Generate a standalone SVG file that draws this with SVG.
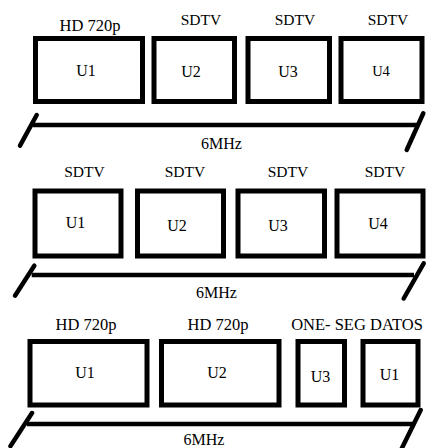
<svg xmlns="http://www.w3.org/2000/svg" width="427" height="448" viewBox="0 0 427 448">
<style>
.box{fill:#fff;stroke:#000;stroke-width:5}
.ln{fill:none;stroke:#000;stroke-width:4.5;stroke-linecap:round}
.hl{fill:none;stroke:#000;stroke-width:4.5}
text{font-family:"Liberation Serif","Times New Roman",serif;fill:#000;text-anchor:middle}
.lab{font-size:16.5px}
.sd{font-size:15.5px}
.u{font-size:16px}
.mhz{font-size:16px}
</style>
<rect width="427" height="448" fill="#fff"/>
<g id="row1">
  <g id="r1-u1"><text class="lab" x="90" y="31">HD 720p</text><rect class="box" x="35.5" y="38.5" width="107" height="63"/><text class="u" x="86" y="76">U1</text></g>
  <g id="r1-u2"><text class="sd" x="201" y="25">SDTV</text><rect class="box" x="154" y="38.5" width="80.5" height="63"/><text class="u" x="191" y="77">U2</text></g>
  <g id="r1-u3"><text class="sd" x="295" y="25">SDTV</text><rect class="box" x="248" y="38.5" width="81.5" height="63"/><text class="u" x="288" y="77">U3</text></g>
  <g id="r1-u4"><text class="sd" x="388" y="25">SDTV</text><rect class="box" x="341" y="38.5" width="81" height="63"/><text class="u" x="381" y="76" style="font-size:14.5px">U4</text></g>
</g>
<g id="row2">
  <g id="r2-u1"><text class="sd" x="84.5" y="177">SDTV</text><rect class="box" x="35" y="191" width="86" height="65"/><text class="u" x="75.5" y="228">U1</text></g>
  <g id="r2-u2"><text class="sd" x="185" y="177">SDTV</text><rect class="box" x="137.5" y="191" width="86" height="65"/><text class="u" x="177" y="230.5">U2</text></g>
  <g id="r2-u3"><text class="sd" x="288" y="177">SDTV</text><rect class="box" x="238" y="191" width="86.5" height="65"/><text class="u" x="278" y="231">U3</text></g>
  <g id="r2-u4"><text class="sd" x="385" y="177">SDTV</text><rect class="box" x="337" y="191" width="86" height="65"/><text class="u" x="378" y="229">U4</text></g>
</g>
<g id="row3">
  <g id="r3-u1"><text class="lab" x="86" y="330">HD 720p</text><rect class="box" x="30" y="341.5" width="117" height="63.5"/><text class="u" x="85" y="377.5">U1</text></g>
  <g id="r3-u2"><text class="lab" x="218" y="330">HD 720p</text><rect class="box" x="161.5" y="341.5" width="117.5" height="63.5"/><text class="u" x="217" y="377.5">U2</text></g>
  <g id="r3-label"><text class="lab" x="357" y="329.5">ONE- SEG DATOS</text></g>
  <g id="r3-u3"><rect class="box" x="298" y="341.5" width="46.5" height="63.5"/><text class="u" x="320.5" y="381.5">U3</text></g>
  <g id="r3-u1b"><rect class="box" x="363" y="341.5" width="55" height="63.5"/><text class="u" x="389.5" y="380">U1</text></g>
</g>
<g id="connectors">
  <line class="hl" x1="33" y1="125" x2="417" y2="125"/>
  <line class="ln" x1="36.7" y1="115" x2="20" y2="145.7"/>
  <line class="ln" x1="423.3" y1="113.3" x2="406.7" y2="150"/>
  <line class="hl" x1="31.7" y1="275" x2="414" y2="275"/>
  <line class="ln" x1="34.3" y1="265.7" x2="15" y2="295.7"/>
  <line class="ln" x1="423.7" y1="263.3" x2="403.7" y2="298.5"/>
  <line class="hl" x1="27" y1="424" x2="415" y2="424"/>
  <line class="ln" x1="32" y1="413" x2="10.5" y2="446"/>
  <line class="ln" x1="420.7" y1="410" x2="401" y2="450"/>
</g>
<g id="bandwidth-labels">
  <text class="mhz" x="221.5" y="149.3">6MHz</text>
  <text class="mhz" x="216.5" y="298.3">6MHz</text>
  <text class="mhz" x="204" y="445">6MHz</text>
</g>
</svg>
